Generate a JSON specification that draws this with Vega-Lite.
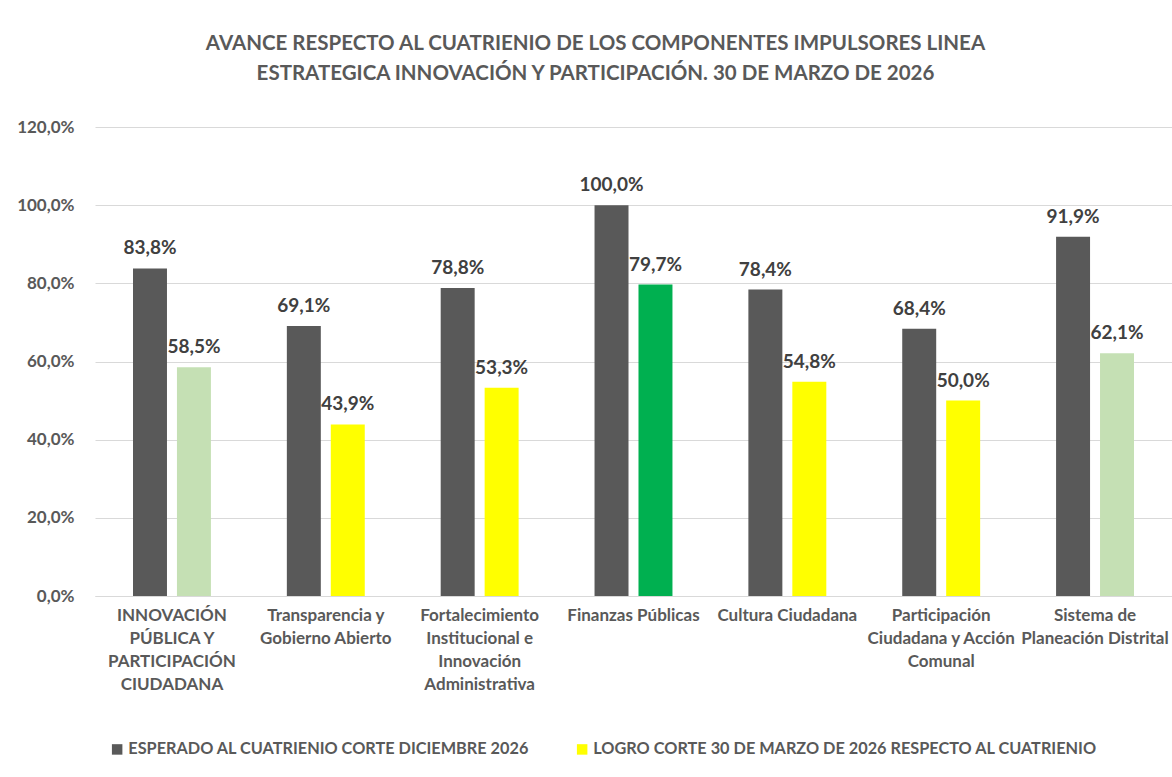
{
  "$schema": "https://vega.github.io/schema/vega-lite/v6.json",
  "width": 1077,
  "height": 469,
  "autosize": {"type": "none"},
  "padding": {"left": 95, "top": 127, "right": 0, "bottom": 181},
  "background": "white",
  "title": {
    "text": ["AVANCE RESPECTO AL CUATRIENIO DE LOS COMPONENTES IMPULSORES LINEA", "ESTRATEGICA INNOVACIÓN Y PARTICIPACIÓN. 30 DE MARZO DE 2026"],
    "anchor": "middle",
    "dx": -38,
    "offset": 34,
    "font": "Lato",
    "fontSize": 20.5,
    "fontWeight": "bold",
    "color": "#595959",
    "lineHeight": 30
  },
  "data": {
    "values": [
      {"componente": "INNOVACIÓN PÚBLICA Y PARTICIPACIÓN CIUDADANA", "serie": "ESPERADO  AL CUATRIENIO CORTE DICIEMBRE 2026", "valor": 0.838},
      {"componente": "INNOVACIÓN PÚBLICA Y PARTICIPACIÓN CIUDADANA", "serie": "LOGRO  CORTE  30 DE MARZO DE 2026 RESPECTO AL CUATRIENIO", "valor": 0.585},
      {"componente": "Transparencia y Gobierno Abierto", "serie": "ESPERADO  AL CUATRIENIO CORTE DICIEMBRE 2026", "valor": 0.691},
      {"componente": "Transparencia y Gobierno Abierto", "serie": "LOGRO  CORTE  30 DE MARZO DE 2026 RESPECTO AL CUATRIENIO", "valor": 0.439},
      {"componente": "Fortalecimiento Institucional e Innovación Administrativa", "serie": "ESPERADO  AL CUATRIENIO CORTE DICIEMBRE 2026", "valor": 0.788},
      {"componente": "Fortalecimiento Institucional e Innovación Administrativa", "serie": "LOGRO  CORTE  30 DE MARZO DE 2026 RESPECTO AL CUATRIENIO", "valor": 0.533},
      {"componente": "Finanzas Públicas", "serie": "ESPERADO  AL CUATRIENIO CORTE DICIEMBRE 2026", "valor": 1.0},
      {"componente": "Finanzas Públicas", "serie": "LOGRO  CORTE  30 DE MARZO DE 2026 RESPECTO AL CUATRIENIO", "valor": 0.797},
      {"componente": "Cultura Ciudadana", "serie": "ESPERADO  AL CUATRIENIO CORTE DICIEMBRE 2026", "valor": 0.784},
      {"componente": "Cultura Ciudadana", "serie": "LOGRO  CORTE  30 DE MARZO DE 2026 RESPECTO AL CUATRIENIO", "valor": 0.548},
      {"componente": "Participación Ciudadana y Acción Comunal", "serie": "ESPERADO  AL CUATRIENIO CORTE DICIEMBRE 2026", "valor": 0.684},
      {"componente": "Participación Ciudadana y Acción Comunal", "serie": "LOGRO  CORTE  30 DE MARZO DE 2026 RESPECTO AL CUATRIENIO", "valor": 0.5},
      {"componente": "Sistema de Planeación Distrital", "serie": "ESPERADO  AL CUATRIENIO CORTE DICIEMBRE 2026", "valor": 0.919},
      {"componente": "Sistema de Planeación Distrital", "serie": "LOGRO  CORTE  30 DE MARZO DE 2026 RESPECTO AL CUATRIENIO", "valor": 0.621}
    ]
  },
  "encoding": {
    "x": {
      "field": "componente",
      "type": "nominal",
      "sort": null,
      "title": null,
      "scale": {"paddingInner": 0.4935, "paddingOuter": 0.247},
      "axis": {
        "labelAngle": 0,
        "labelFont": "Lato",
        "labelFontSize": 17,
        "labelFontWeight": "bold",
        "labelColor": "#595959",
        "labelPadding": 11,
        "labelLineHeight": 23,
        "labelBaseline": "top",
        "labelOverlap": false,
        "labelBound": false,
        "labelFlush": false,
        "labelLimit": 300,
        "ticks": false,
        "domain": true,
        "domainColor": "#D9D9D9",
        "domainWidth": 1,
        "labelExpr": "datum.value === 'INNOVACIÓN PÚBLICA Y PARTICIPACIÓN CIUDADANA' ? ['INNOVACIÓN','PÚBLICA Y','PARTICIPACIÓN','CIUDADANA'] : datum.value === 'Transparencia y Gobierno Abierto' ? ['Transparencia y','Gobierno Abierto'] : datum.value === 'Fortalecimiento Institucional e Innovación Administrativa' ? ['Fortalecimiento','Institucional e','Innovación','Administrativa'] : datum.value === 'Participación Ciudadana y Acción Comunal' ? ['Participación','Ciudadana y Acción','Comunal'] : datum.value === 'Sistema de Planeación Distrital' ? ['Sistema de','Planeación Distrital'] : datum.value"
      }
    },
    "xOffset": {
      "field": "serie",
      "type": "nominal",
      "sort": ["ESPERADO  AL CUATRIENIO CORTE DICIEMBRE 2026", "LOGRO  CORTE  30 DE MARZO DE 2026 RESPECTO AL CUATRIENIO"],
      "scale": {"paddingInner": 0.227, "paddingOuter": 0}
    },
    "y": {
      "field": "valor",
      "type": "quantitative",
      "title": null,
      "scale": {"domain": [0, 1.2], "nice": false},
      "axis": {
        "values": [0, 0.2, 0.4, 0.6, 0.8, 1.0, 1.2],
        "format": ".1%",
        "labelFont": "Lato",
        "labelFontSize": 17,
        "labelFontWeight": "bold",
        "labelColor": "#595959",
        "labelPadding": 21,
        "ticks": false,
        "domain": false,
        "grid": true,
        "gridColor": "#D9D9D9",
        "gridWidth": 1
      }
    }
  },
  "layer": [
    {
      "mark": {"type": "bar"},
      "encoding": {
        "color": {
          "field": "serie",
          "type": "nominal",
          "sort": ["ESPERADO  AL CUATRIENIO CORTE DICIEMBRE 2026", "LOGRO  CORTE  30 DE MARZO DE 2026 RESPECTO AL CUATRIENIO"],
          "scale": {"range": ["#595959", "#FFFF00"]},
          "condition": [
            {"test": "indexof(datum.serie, 'LOGRO') === 0 && (datum.componente === 'INNOVACIÓN PÚBLICA Y PARTICIPACIÓN CIUDADANA' || datum.componente === 'Sistema de Planeación Distrital')", "value": "#C5E0B4"},
            {"test": "indexof(datum.serie, 'LOGRO') === 0 && datum.componente === 'Finanzas Públicas'", "value": "#00B050"}
          ],
          "legend": {
            "title": null,
            "orient": "none",
            "direction": "horizontal",
            "legendX": 14,
            "legendY": 614,
            "symbolType": "square",
            "symbolSize": 110,
            "symbolStrokeWidth": 0,
            "labelFont": "Lato",
            "labelFontSize": 16.3,
            "labelFontWeight": "bold",
            "labelColor": "#595959",
            "labelOffset": 3,
            "labelLimit": 600,
            "columnPadding": 40
          }
        }
      }
    },
    {
      "mark": {"type": "text", "baseline": "bottom", "dy": -10, "font": "Lato", "fontSize": 19, "fontWeight": "bold", "color": "#404040"},
      "encoding": {
        "text": {"field": "valor", "type": "quantitative", "format": ".1%"}
      }
    }
  ],
  "config": {
    "locale": {
      "number": {"decimal": ",", "thousands": ".", "grouping": [3], "currency": ["", " €"]}
    },
    "view": {"stroke": null}
  }
}
